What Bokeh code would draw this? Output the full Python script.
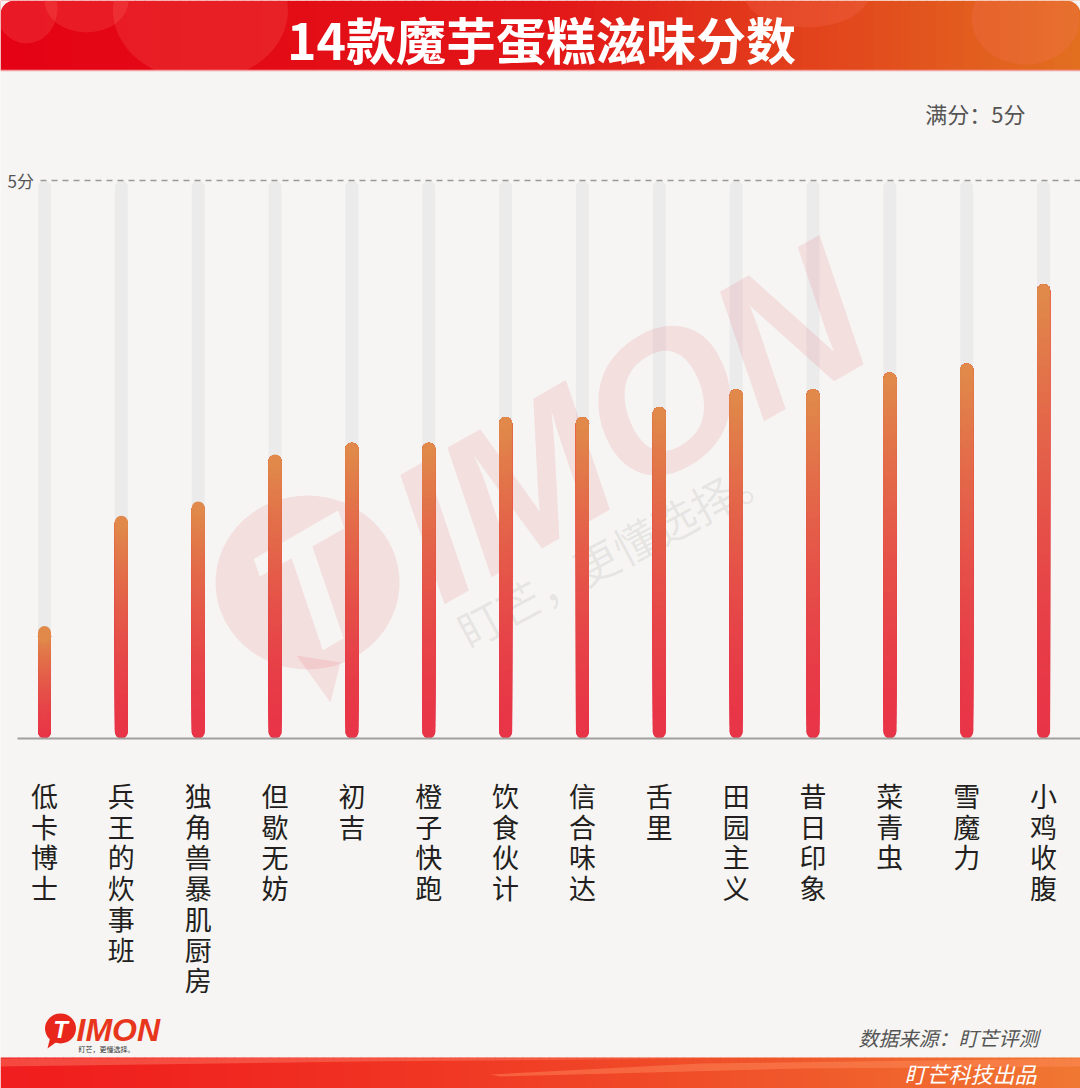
import numpy as np
from bokeh.plotting import figure
from bokeh.models import Range1d
from bokeh.embed import file_html
from bokeh.resources import INLINE
from bokeh.core.properties import value

# ---------------- data ----------------
names = ["低卡博士", "兵王的炊事班", "独角兽暴肌厨房", "但歇无妨", "初吉", "橙子快跑", "饮食伙计",
         "信合味达", "舌里", "田园主义", "昔日印象", "菜青虫", "雪魔力", "小鸡收腹"]
scores = [0.97, 1.98, 2.11, 2.54, 2.65, 2.65, 2.88, 2.88, 2.97, 3.13, 3.13, 3.28, 3.36, 4.07]
full_score = 5
title_text = "14款魔芋蛋糕滋味分数"
note_text = "满分：5分"
tick_text = "5分"
source_text = "数据来源：盯芒评测"
footer_text = "盯芒科技出品"
slogan_text = "盯芒，更懂选择。"

# ---------------- layout constants ----------------
W, H = 1080, 1088
BG = "#f6f5f3"
X0, DX = 44.0, 76.85          # pixel of first bar centre, pixel step between bars
Y0, PPU = 738.0, 111.6        # pixel of value 0, pixels per score unit
BAR_W = 13
CAP = (BAR_W / 2) / PPU       # round cap radius in value units
CJK = value("Noto Sans CJK SC")

p = figure(width=W, height=H, x_range=Range1d(0, W), y_range=Range1d(H, 0),
           output_backend="svg", toolbar_location=None,
           x_axis_location=None, y_axis_location=None, min_border=0,
           background_fill_color=BG, border_fill_color=BG, outline_line_color=None)
p.grid.visible = False
p.extra_x_ranges["idx"] = Range1d(start=(0 - X0) / DX, end=(W - X0) / DX)
p.extra_y_ranges["val"] = Range1d(start=(Y0 - H) / PPU, end=Y0 / PPU)

def lerp(c0, c1, t):
    return "#%02x%02x%02x" % tuple(int(round(a + (b - a) * t)) for a, b in zip(c0, c1))

# ---------------- header ----------------
n = 120
xs = np.linspace(0, W, n + 1)
hc = []
for k in range(n):
    t = k / n
    if t < 0.5:
        hc.append(lerp((228, 2, 20), (226, 22, 24), t / 0.5))
    else:
        hc.append(lerp((226, 22, 24), (226, 112, 32), (t - 0.5) / 0.5))
p.quad(left=xs[:-1], right=xs[1:] + 0.6, top=0, bottom=70, fill_color=hc, line_color=None)
# decorative light circles in header
p.ellipse(x=[26, 86, 200, 806, 1025], y=[8, 0, 10, -8, 18], width=[62, 84, 175, 126, 108],
          height=[70, 64, 140, 70, 92], fill_color="#ff7a6a", fill_alpha=0.2, line_color=None)
# cover body
p.quad(left=0, right=W, top=70, bottom=H, fill_color=BG, line_color=None)
p.segment(x0=0, x1=W, y0=70, y1=70, line_color="#f2a0a0", line_width=1.5)
# rounded top corners
r = 14
t = np.linspace(-np.pi / 2, -np.pi, 16)
p.patch(x=np.r_[0, r + r * np.cos(t)], y=np.r_[0, r + r * np.sin(t)], fill_color=BG, line_color=None)
p.patch(x=np.r_[W, W - r - r * np.cos(t)], y=np.r_[0, r + r * np.sin(t)], fill_color=BG, line_color=None)
p.text(x=[541], y=[37], text=[title_text], text_font=CJK, text_font_style="bold",
       text_font_size="50px", text_color="white", text_align="center", text_baseline="middle")

# ---------------- footer ----------------
nf = 120
xf = np.linspace(0, W, nf + 1)
fc = [lerp((240, 30, 30), (240, 120, 50), (k / nf) ** 1.4) for k in range(nf)]
p.quad(left=xf[:-1], right=xf[1:] + 0.6, top=1057, bottom=H, fill_color=fc, line_color=None)
p.patch(x=[0, 300, 700, 360, 0], y=[1058, 1057.5, 1058, 1061, 1066], fill_color="#ff9a80",
        fill_alpha=0.35, line_color=None)
p.patch(x=[490, 700, 1080, 1080, 800, 500], y=[1074, 1063, 1058, 1066, 1068, 1076], fill_color="#ff8f60",
        fill_alpha=0.45, line_color=None)
p.text(x=[1036], y=[1072], text=[footer_text], text_font=CJK, text_font_style="italic",
       text_font_size="22px", text_color="white", text_align="right", text_baseline="middle")
p.text(x=[1038], y=[1037], text=[source_text], text_font=CJK, text_font_style="italic",
       text_font_size="20px", text_color="#555555", text_align="right", text_baseline="middle")

# logo
p.patch(x=[50, 58, 47], y=[1036, 1040, 1048], fill_color="#e8261c", line_color=None)
p.ellipse(x=[60], y=[1028], width=[31], height=[30], fill_color="#e8261c", line_color=None)
p.text(x=[60], y=[1029], text=["T"], text_font=value("Liberation Sans"), text_font_style="bold italic",
       text_font_size="24px", text_color="white", text_align="center", text_baseline="middle")
p.text(x=[76], y=[1029], text=["IMON"], text_font=value("Liberation Sans"), text_font_style="bold italic",
       text_font_size="32px", text_color="#e8361c", text_align="left", text_baseline="middle")
p.text(x=[78], y=[1048], text=[slogan_text], text_font=CJK, text_font_size="7px",
       text_color="#333333", text_align="left", text_baseline="middle")

# ---------------- chart ----------------
idx = list(range(len(names)))
p.text(x=[1025], y=[112], text=[note_text], text_font=CJK, text_font_size="22px",
       text_color="#555555", text_align="right", text_baseline="middle")

# tracks
p.segment(x0=idx, x1=idx, y0=[CAP] * len(idx), y1=[full_score - CAP] * len(idx),
          x_range_name="idx", y_range_name="val", line_color="#ebebeb", line_width=BAR_W, line_cap="round")

# watermark
WM = "#e8323c"
p.patch(x=[296, 340, 330], y=[655, 662, 702], fill_color=WM, fill_alpha=0.11, line_color=None)
p.ellipse(x=[307], y=[582], width=[184], height=[174], fill_color=WM, fill_alpha=0.11, line_color=None)
p.text(x=[312], y=[590], text=["T"], text_font=value("Liberation Sans"), text_font_style="bold italic",
       text_font_size="165px", text_color=BG, text_align="center", text_baseline="middle",
       angle=0.52)
p.text(x=[628], y=[420], text=["IMON"], text_font=value("Liberation Sans"), text_font_style="bold italic",
       text_font_size="195px", text_color=WM, text_alpha=0.11, text_align="center",
       text_baseline="middle", angle=0.52)
p.text(x=[615], y=[550], text=[slogan_text], text_font=CJK, text_font_size="44px",
       text_color="#000000", text_alpha=0.07, text_align="center", text_baseline="middle", angle=0.49)

# gradient bars
RED, ORG = (232, 52, 71), (224, 137, 74)
K = 48
bx, by0, by1, bc = [], [], [], []
for i, v in zip(idx, scores):
    for k in range(K):
        ys = v * k / K
        bx.append(i)
        by0.append(max(ys, CAP))
        by1.append(v - CAP)
        bc.append(lerp(RED, ORG, (k / (K - 1)) ** 1.5))
p.segment(x0=bx, x1=bx, y0=by0, y1=by1, x_range_name="idx", y_range_name="val",
          line_color=bc, line_width=BAR_W, line_cap="round")

# baseline and full-score line
p.segment(x0=[17], x1=[W], y0=[0], y1=[0], y_range_name="val", line_color="#a0a0a0", line_width=2)
p.segment(x0=[40], x1=[W], y0=[full_score], y1=[full_score], y_range_name="val",
          line_color="#9a9a9a", line_width=1.5, line_dash="6 5")
p.text(x=[7], y=[full_score], text=[tick_text], text_font=CJK, text_font_size="17px",
       y_range_name="val", text_color="#555555", text_align="left", text_baseline="middle")

# vertical category labels
lx, ly, lt = [], [], []
for i, nm in zip(idx, names):
    for k, ch in enumerate(nm):
        lx.append(i)
        ly.append(795 + 30.7 * k)
        lt.append(ch)
p.text(x=lx, y=ly, text=lt, x_range_name="idx", text_font=CJK, text_font_size="27px",
       text_color="#231f20", text_align="center", text_baseline="middle")

open("out.html", "w").write(file_html(p, INLINE))
